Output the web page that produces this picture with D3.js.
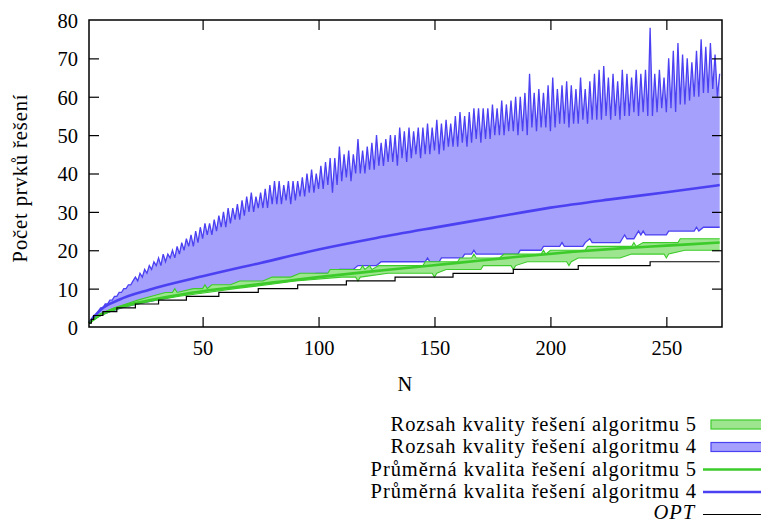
<!DOCTYPE html>
<html>
<head>
<meta charset="utf-8">
<script src="https://cdn.jsdelivr.net/npm/d3@7"></script>
<style>
  body { margin: 0; background: #fff; }
  svg text { font-family: 'Liberation Serif', serif; fill: #000; }
</style>
</head>
<body>
<svg id="chart" width="761" height="524"></svg>
<script>
// N goes from 1 to 273, one value per N for the jagged upper bound of algorithm 4
var firstN = 1;
var xTicks = [50, 100, 150, 200, 250];
var yTicks = [0, 10, 20, 30, 40, 50, 60, 70, 80];

var blueMax = [
  1, 2, 3, 3, 4, 5, 5, 6, 6, 7,
  7, 8, 8, 9, 9, 10, 10, 11, 11, 12,
  13, 12, 14, 13, 15, 14, 16, 15, 17, 16,
  18, 16, 19, 17, 19, 18, 20, 18, 21, 19,
  22, 20, 23, 21, 24, 21, 25, 22, 26, 23,
  27, 24, 27, 24, 28, 25, 29, 26, 30, 26,
  31, 27, 31, 28, 32, 28, 33, 29, 34, 30,
  35, 30, 34, 31, 35, 31, 36, 31, 37, 32,
  38, 32, 38, 32, 37, 33, 38, 32, 38, 33,
  38, 34, 39, 34, 40, 35, 41, 35, 40, 36,
  42, 36, 43, 37, 44, 35, 44, 37, 47, 38,
  45, 39, 46, 38, 45, 40, 49, 40, 46, 40,
  47, 41, 48, 41, 50, 42, 48, 42, 49, 43,
  50, 43, 50, 42, 52, 44, 51, 43, 52, 44,
  51, 45, 52, 44, 52, 45, 53, 45, 52, 46,
  54, 45, 53, 46, 54, 47, 53, 47, 55, 47,
  56, 48, 55, 47, 56, 48, 57, 49, 57, 48,
  57, 49, 57, 49, 58, 50, 57, 50, 59, 50,
  58, 51, 59, 51, 60, 50, 60, 51, 61, 50,
  66, 52, 61, 51, 62, 52, 61, 52, 63, 51,
  65, 52, 62, 53, 63, 53, 64, 52, 63, 53,
  62, 53, 65, 54, 62, 53, 64, 54, 66, 54,
  67, 54, 68, 55, 65, 54, 66, 55, 64, 54,
  67, 55, 66, 55, 65, 56, 67, 55, 66, 56,
  67, 55, 78, 55, 66, 56, 67, 57, 65, 56,
  70, 57, 72, 56, 74, 58, 71, 58, 70, 59,
  69, 60, 72, 60, 75, 61, 73, 61, 74, 62,
  71, 60, 66
];

// [N, value] points
var blueMin = [
  [1, 1], [3, 2], [6, 3], [10, 4], [15, 5], [22, 6], [30, 7], [38, 8], [47, 9],
  [56, 10], [66, 11], [78, 12], [90, 13], [99, 14], [107, 14], [109, 15], [115, 15],
  [117, 16], [125, 16], [127, 17], [146, 17], [147, 18], [148, 17], [152, 17],
  [153, 18], [162, 18], [163, 19], [166, 19], [167, 20], [168, 19], [186, 19],
  [187, 20], [196, 20], [197, 21], [204, 21], [205, 22], [206, 21], [214, 21],
  [215, 22], [217, 23], [218, 22], [230, 22], [231, 23], [232, 24], [233, 23],
  [236, 23], [237, 24], [238, 25], [239, 24], [240, 25], [241, 24], [250, 24],
  [251, 25], [262, 25], [263, 26], [264, 25], [266, 26], [273, 26]
];
var blueMean = [
  [1, 1], [6, 4.5], [14, 7.1], [27, 9.7], [50, 13.2], [75, 16.7], [100, 20.2],
  [125, 23.2], [150, 25.9], [175, 28.5], [200, 31.1], [225, 33.2], [250, 35.1], [273, 37]
];

var greenMax = [
  [1, 1], [4, 3], [8, 4], [12, 5], [17, 6], [22, 7], [28, 8], [34, 9], [37, 9],
  [38, 10], [39, 9], [46, 10], [50, 10], [51, 11], [52, 10], [54, 11], [62, 11],
  [66, 12], [76, 12], [80, 13], [88, 13], [92, 14], [104, 14], [105, 15], [118, 15],
  [119, 16], [120, 15], [122, 16], [123, 15], [126, 16], [145, 16], [146, 17],
  [160, 17], [161, 18], [166, 18], [167, 19], [168, 18], [178, 18], [180, 19],
  [196, 19], [197, 20], [198, 19], [200, 20], [215, 20], [216, 21], [235, 21],
  [236, 22], [237, 21], [240, 22], [255, 22], [256, 23], [273, 23]
];
var greenMin = [
  [1, 1], [3, 2], [6, 3], [10, 4], [15, 5], [22, 6], [30, 7], [40, 8], [52, 9],
  [64, 10], [78, 11], [90, 12], [110, 13], [116, 13], [117, 12], [118, 13],
  [130, 14], [149, 14], [150, 13], [151, 14], [155, 15], [170, 15], [171, 16],
  [183, 16], [184, 15], [185, 16], [190, 17], [207, 17], [208, 16], [209, 17],
  [212, 18], [230, 18], [235, 19], [249, 19], [250, 18], [251, 19], [258, 20], [273, 20]
];
var greenMean = [
  [1, 1], [5, 2.8], [10, 4.3], [15, 5.3], [20, 6.1], [28, 7.1], [42, 8.6], [57, 9.9],
  [72, 11.0], [86, 12.0], [100, 13.0], [120, 14.3], [140, 15.5], [160, 16.7],
  [186, 18.3], [210, 19.6], [230, 20.5], [250, 21.2], [273, 22.0]
];

var opt = [
  [1, 1], [2, 2], [3, 3], [7, 4], [13, 5], [21, 6], [31, 7], [43, 8], [57, 9],
  [74, 10], [91, 11], [112, 12], [133, 13], [158, 14], [184, 15], [212, 16], [243, 17], [273, 17]
];

var legendLabels = [
  'Rozsah kvality řešení algoritmu 5',
  'Rozsah kvality řešení algoritmu 4',
  'Průměrná kvalita řešení algoritmu 5',
  'Průměrná kvalita řešení algoritmu 4',
  'OPT'
];

var blueFill = '#a4a0fb', blueLine = '#4b40f2';
var greenFill = '#9de68f', greenLine = '#3ccb2a';

function lookup(points, n) {
  // value of a [N, value] polyline at N
  for (var i = 1; i < points.length; i++) {
    if (n <= points[i][0]) {
      var a = points[i - 1], b = points[i];
      return a[1] + (b[1] - a[1]) * (n - a[0]) / (b[0] - a[0]);
    }
  }
  return points[points.length - 1][1];
}

var svg = d3.select('#chart'),
  plotLeft = 89, plotRight = 722, plotTop = 20, plotBottom = 327;

var x = d3.scaleLinear().domain([1, 274]).range([plotLeft, plotRight]);
var y = d3.scaleLinear().domain([0, 80]).range([plotBottom, plotTop]);

var plot = svg.append('g');
var maxPts = blueMax.map(function (v, i) { return [firstN + i, v]; });

// blue band: between the jagged max and the min polyline
var blueBand = maxPts.map(function (p) { return { n: p[0], hi: p[1], lo: lookup(blueMin, p[0]) }; });
plot.append('path')
  .datum(blueBand)
  .attr('fill', blueFill)
  .attr('d', d3.area().x(function (d) { return x(d.n); }).y0(function (d) { return y(d.lo); }).y1(function (d) { return y(d.hi); }));

var line = d3.line().x(function (d) { return x(d[0]); }).y(function (d) { return y(d[1]); });

plot.append('path').datum(maxPts).attr('fill', 'none').attr('stroke', blueLine).attr('stroke-width', 1.3).attr('d', line);
plot.append('path').datum(blueMin).attr('fill', 'none').attr('stroke', blueLine).attr('stroke-width', 1.3).attr('d', line);

// green band
var ns = d3.range(1, 274);
var greenBand = ns.map(function (n) { return { n: n, hi: lookup(greenMax, n), lo: lookup(greenMin, n) }; });
plot.append('path')
  .datum(greenBand)
  .attr('fill', greenFill)
  .attr('d', d3.area().x(function (d) { return x(d.n); }).y0(function (d) { return y(d.lo); }).y1(function (d) { return y(d.hi); }));
plot.append('path').datum(greenMax).attr('fill', 'none').attr('stroke', greenLine).attr('stroke-width', 1.1).attr('d', line);
plot.append('path').datum(greenMin).attr('fill', 'none').attr('stroke', greenLine).attr('stroke-width', 1.1).attr('d', line);

var smooth = d3.line().curve(d3.curveMonotoneX).x(function (d) { return x(d[0]); }).y(function (d) { return y(d[1]); });
plot.append('path').datum(blueMean).attr('fill', 'none').attr('stroke', blueLine).attr('stroke-width', 2.6).attr('d', smooth);
plot.append('path').datum(greenMean).attr('fill', 'none').attr('stroke', greenLine).attr('stroke-width', 2.6).attr('d', smooth);

var step = d3.line().curve(d3.curveStepAfter).x(function (d) { return x(d[0]); }).y(function (d) { return y(d[1]); });
plot.append('path').datum(opt).attr('fill', 'none').attr('stroke', '#000').attr('stroke-width', 1.2).attr('d', step);

// axes, ticks pointing inward and mirrored
var fs = '20.5px', ls = '0.9px', serif = "'Liberation Serif', serif";
var gx = svg.append('g').attr('transform', 'translate(0,' + plotBottom + ')')
  .call(d3.axisBottom(x).tickValues(xTicks).tickSize(-10).tickPadding(16));
var gy = svg.append('g').attr('transform', 'translate(' + plotLeft + ',0)')
  .call(d3.axisLeft(y).tickValues(yTicks).tickSize(-10).tickPadding(11));
var gt = svg.append('g').attr('transform', 'translate(0,' + plotTop + ')')
  .call(d3.axisTop(x).tickValues(xTicks).tickSize(-10).tickFormat(''));
var gr = svg.append('g').attr('transform', 'translate(' + plotRight + ',0)')
  .call(d3.axisRight(y).tickValues(yTicks).tickSize(-10).tickFormat(''));

[gx, gy, gt, gr].forEach(function (g) {
  g.attr('font-family', null).attr('font-size', null);
  g.select('.domain').remove();
  g.selectAll('line').attr('stroke', '#000').attr('stroke-width', 1.2);
  g.selectAll('text').style('font-family', serif).style('font-size', fs).attr('fill', '#000');
});
gx.selectAll('text').attr('dy', '0.6em');
gy.selectAll('text').attr('dy', '0.36em');
gy.selectAll('.tick').filter(function (d) { return d === 0 || d === 80; }).select('line').remove();
gr.selectAll('.tick').filter(function (d) { return d === 0 || d === 80; }).select('line').remove();

svg.append('rect')
  .attr('x', plotLeft).attr('y', plotTop)
  .attr('width', plotRight - plotLeft).attr('height', plotBottom - plotTop)
  .attr('fill', 'none').attr('stroke', '#000').attr('stroke-width', 1.5);

svg.append('text').attr('x', 405).attr('y', 391).attr('text-anchor', 'middle')
  .style('font-family', serif).style('font-size', fs).text('N');
svg.append('text')
  .attr('transform', 'translate(27,178) rotate(-90)')
  .attr('text-anchor', 'middle').style('font-family', serif).style('font-size', fs).style('letter-spacing', ls)
  .text('Počet prvků řešení');

// legend
var legend = svg.append('g');
var rowY = [424.5, 447, 469.5, 492, 514.5];
legendLabels.forEach(function (label, i) {
  var t = legend.append('text')
    .attr('x', i === 4 ? 695 : 697).attr('y', rowY[i] + (i === 4 ? 4.5 : 6))
    .attr('text-anchor', 'end').style('font-family', serif).style('font-size', fs).style('letter-spacing', ls)
    .text(label);
  if (i === 4) t.style('font-style', 'italic');
});
legend.append('rect').attr('x', 711).attr('y', rowY[0] - 4.5).attr('width', 52).attr('height', 9)
  .attr('fill', greenFill).attr('stroke', greenLine).attr('stroke-width', 1.2);
legend.append('rect').attr('x', 711).attr('y', rowY[1] - 4.5).attr('width', 52).attr('height', 9)
  .attr('fill', blueFill).attr('stroke', blueLine).attr('stroke-width', 1.2);
legend.append('line').attr('x1', 703).attr('x2', 761).attr('y1', rowY[2]).attr('y2', rowY[2])
  .attr('stroke', greenLine).attr('stroke-width', 2.6);
legend.append('line').attr('x1', 703).attr('x2', 761).attr('y1', rowY[3]).attr('y2', rowY[3])
  .attr('stroke', blueLine).attr('stroke-width', 2.6);
legend.append('line').attr('x1', 703).attr('x2', 761).attr('y1', rowY[4]).attr('y2', rowY[4])
  .attr('stroke', '#000').attr('stroke-width', 1.2);
</script>
</body>
</html>
